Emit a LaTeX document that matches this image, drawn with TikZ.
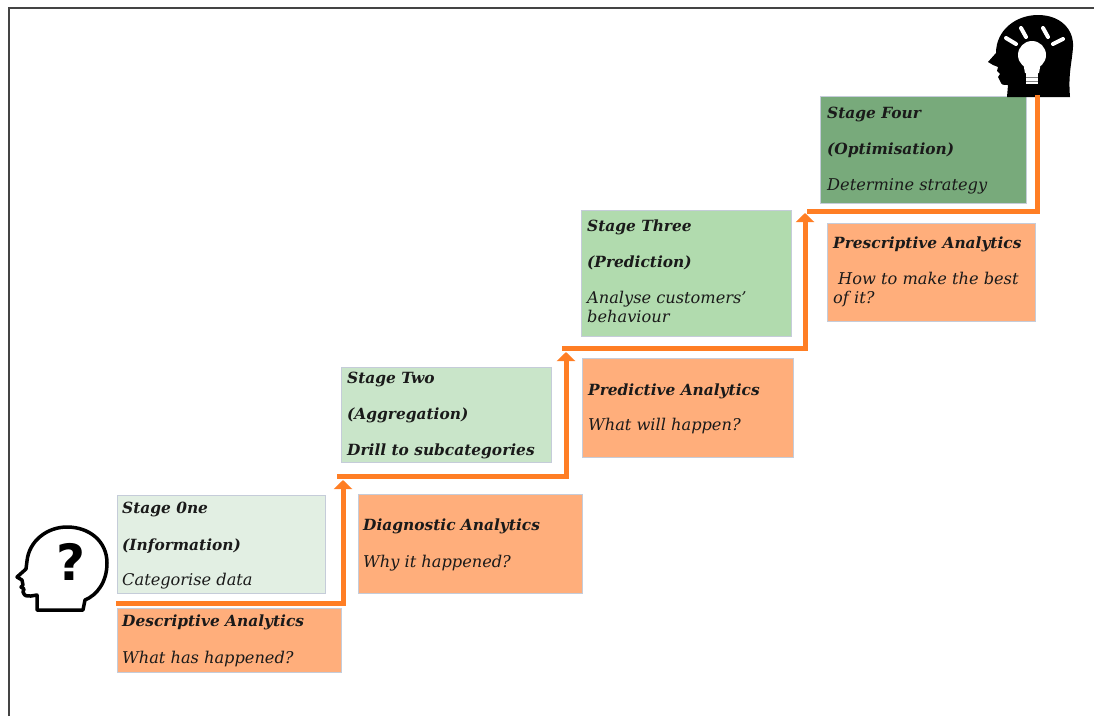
\documentclass[tikz,border=0pt]{standalone}
\usepackage{fontspec}
\setmainfont{DejaVu Serif}
\setsansfont{DejaVu Sans}
\usetikzlibrary{arrows.meta}
\definecolor{stageone}{HTML}{E2EFE3}
\definecolor{stagetwo}{HTML}{C9E5C9}
\definecolor{stagethree}{HTML}{B1DBAE}
\definecolor{stagefour}{HTML}{78AA7B}
\definecolor{analytic}{HTML}{FFAE7B}
\definecolor{stairs}{HTML}{FF7E24}
\definecolor{edge}{HTML}{C5CCD9}
\definecolor{ink}{HTML}{1A1A1A}
\definecolor{frame}{HTML}{444444}

\begin{document}
\begin{tikzpicture}[x=1pt,y=-1pt,
  stage/.style = {draw=edge, line width=0.8pt, anchor=north west, inner sep=0pt},
  heading/.style = {anchor=base west, inner sep=0pt, text=ink, font=\fontsize{15.4}{15.4}\selectfont\bfseries\itshape},
  body/.style = {anchor=base west, inner sep=0pt, text=ink, font=\fontsize{16.2}{16.2}\selectfont\itshape},
  stair/.style = {draw=stairs, line width=5pt},
  rise/.style = {-{Triangle[width=18pt,length=9pt]}}]
\useasboundingbox (0,0) rectangle (1094,716);
\draw[frame, line width=1.2pt] (9,716) -- (9,8) -- (1094,8);

% boxes
\node[stage, fill=stageone, minimum width=208pt, minimum height=98pt] (s1) at (117,495) {};
\node[stage, fill=analytic, minimum width=224pt, minimum height=64pt] (d1) at (117,608) {};
\node[stage, fill=stagetwo, minimum width=210pt, minimum height=95pt] (s2) at (341,367) {};
\node[stage, fill=analytic, minimum width=224pt, minimum height=99pt] (d2) at (358,494) {};
\node[stage, fill=stagethree, minimum width=210pt, minimum height=126pt] (s3) at (581,210) {};
\node[stage, fill=analytic, minimum width=211pt, minimum height=99pt] (d3) at (582,358) {};
\node[stage, fill=stagefour, minimum width=206pt, minimum height=107pt] (s4) at (820,96) {};
\node[stage, fill=analytic, minimum width=208pt, minimum height=98pt] (d4) at (827,223) {};

% texts
\node[heading] (s1a) at (122,513) {Stage 0ne};
\node[heading] (s1b) at (122,550) {(Information)};
\node[body] (s1c) at (122,585) {Categorise data};
\node[heading] (d1a) at (122,626) {Descriptive Analytics};
\node[body] (d1b) at (122,663) {What has happened?};
\node[heading] (s2a) at (347,383) {Stage Two};
\node[heading] (s2b) at (347,419) {(Aggregation)};
\node[heading] (s2c) at (347,455) {Drill to subcategories};
\node[heading] (d2a) at (363,530) {Diagnostic Analytics};
\node[body] (d2b) at (363,567) {Why it happened?};
\node[heading] (s3a) at (587,231) {Stage Three};
\node[heading] (s3b) at (587,267) {(Prediction)};
\node[body] (s3c) at (587,303) {Analyse customers’};
\node[body] (s3d) at (587,322) {behaviour};
\node[heading] (d3a) at (588,395) {Predictive Analytics};
\node[body] (d3b) at (588,430) {What will happen?};
\node[heading] (s4a) at (827,118) {Stage Four};
\node[heading] (s4b) at (827,154) {(Optimisation)};
\node[body] (s4c) at (827,190) {Determine strategy};
\node[heading] (d4a) at (833,248) {Prescriptive Analytics};
\node[body] (d4b) at (838,284) {How to make the best};
\node[body] (d4c) at (833,303) {of it?};

% heads
\begin{scope}[shift={(17,527)}]
\draw[line width=3.5pt, fill=white, line join=round] (66,83) -- (68,73) .. controls (80,68) and (90,55) .. (90,36) .. controls (90,14) and (72,0) .. (50,0) .. controls (30,0) and (12,14) .. (10,34) -- (9,42) -- (0,50) -- (5,53) -- (6,58) -- (4,60) -- (7,62) -- (6,65) .. controls (8,69) .. (14,69) -- (20,68) -- (20,83) -- cycle;
\end{scope}
\node[inner sep=0pt, font=\fontsize{50}{50}\selectfont\sffamily\bfseries] (quest) at (71,562) {?};
\begin{scope}[shift={(988,15)}]
\fill[black] (19,82) -- (20,70) .. controls (14,70) .. (12,66) -- (10,62) -- (12,59) -- (9,56) -- (10,52) -- (5,50) -- (0,47) -- (8,38) .. controls (8,15) and (28,0) .. (50,0) .. controls (72,0) and (86,14) .. (85,32) .. controls (84,48) and (80,58) .. (82,82) -- cycle;
\end{scope}
\fill[white] (1032,55) circle (14);
\fill[white] (1023,62) -- (1041,62) -- (1039,73) -- (1025,73) -- cycle;
\fill[white] (1026,73) rectangle (1038,84);
\draw[gray, line width=1pt] (1026,77) -- (1038,77) (1026,81) -- (1038,81);
\foreach \a/\b/\c/\d in {1006/38/1016/44, 1021/28/1026/37, 1043/28/1048/37, 1053/44/1063/39}
  \draw[white, line width=4pt, line cap=round] (\a,\b) -- (\c,\d);

% staircase
\coordinate (a0) at (116,603);
\coordinate (a1) at (343,480);
\coordinate (b0) at (337,476);
\coordinate (b1) at (566,352);
\coordinate (c0) at (562,348);
\coordinate (c1) at (805,213);
\coordinate (e0) at (807,211);
\coordinate (bulb) at (1037,95);
\draw[stair, rise] (a0) -| (a1);
\draw[stair, rise] (b0) -| (b1);
\draw[stair, rise] (c0) -| (c1);
\draw[stair] (e0) -| (bulb);
\end{tikzpicture}
\end{document}
